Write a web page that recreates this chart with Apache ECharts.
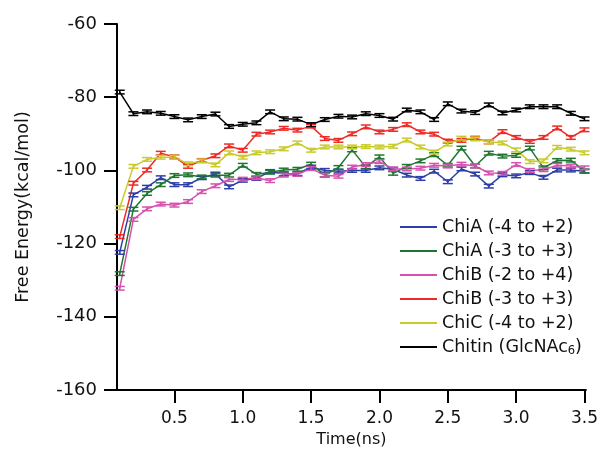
<!DOCTYPE html>
<html>
<head>
<meta charset="utf-8">
<script src="https://cdn.jsdelivr.net/npm/echarts@6/dist/echarts.min.js"></script>
<style>
  html, body { margin: 0; padding: 0; background: #fff; }
  #chart { width: 601px; height: 462px; }
</style>
</head>
<body>
<div id="chart"></div>
<script>
// Simulation time (ns), one sample every 0.1 ns
const times = [0.1, 0.2, 0.3, 0.4, 0.5, 0.6, 0.7, 0.8, 0.9, 1.0,
               1.1, 1.2, 1.3, 1.4, 1.5, 1.6, 1.7, 1.8, 1.9, 2.0,
               2.1, 2.2, 2.3, 2.4, 2.5, 2.6, 2.7, 2.8, 2.9, 3.0,
               3.1, 3.2, 3.3, 3.4, 3.5];

// Free energy (kcal/mol) for each system
const chiA_m4p2 = [-122.4, -106.7, -104.6, -102.0, -103.9, -103.9, -102.0, -101.0, -104.5, -102.7,
                   -102.2, -100.3, -101.0, -100.9, -99.1, -100.0, -100.2, -100.0, -100.0, -99.3,
                   -99.7, -101.3, -102.2, -100.2, -103.1, -99.6, -101.0, -104.3, -101.2, -101.5,
                   -100.6, -101.9, -99.9, -99.9, -100.2];
const chiA_m3p3 = [-128.2, -110.6, -106.3, -103.9, -101.4, -101.2, -101.8, -101.3, -101.3, -98.6,
                   -101.1, -100.5, -99.9, -99.7, -98.3, -101.3, -99.2, -94.4, -99.1, -96.3,
                   -100.8, -98.9, -97.4, -95.7, -98.6, -93.9, -98.8, -95.3, -96.1, -95.9,
                   -93.9, -99.3, -97.3, -97.2, -100.2];
const chiB_m2p4 = [-132.2, -113.4, -110.5, -109.2, -109.5, -108.5, -105.8, -104.2, -102.5, -102.4,
                   -102.0, -102.8, -101.3, -101.1, -99.5, -101.3, -101.6, -99.1, -98.4, -97.6,
                   -99.6, -99.6, -99.4, -98.6, -98.8, -98.3, -98.8, -100.7, -100.8, -98.4,
                   -100.0, -99.8, -98.6, -98.8, -99.3];
const chiB_m3p3 = [-118.1, -103.5, -99.9, -95.3, -96.3, -98.9, -97.3, -96.0, -93.3, -94.5,
                   -90.1, -89.5, -88.5, -89.0, -87.9, -91.3, -91.8, -90.0, -88.1, -89.5,
                   -88.8, -87.5, -89.5, -90.1, -92.0, -91.8, -91.2, -92.2, -89.4, -91.0,
                   -92.1, -91.0, -88.4, -91.0, -88.9];
const chiC_m4p2 = [-110.2, -98.9, -97.0, -96.4, -96.4, -98.2, -97.4, -98.5, -95.2, -96.4,
                   -95.2, -94.9, -94.1, -92.5, -94.5, -93.6, -93.6, -93.6, -93.5, -93.6,
                   -93.4, -91.7, -93.6, -95.0, -92.8, -91.2, -91.4, -92.2, -92.5, -94.4,
                   -97.6, -97.4, -93.7, -94.2, -95.2];
const chitin6   = [-78.6, -84.5, -84.0, -84.4, -85.3, -86.2, -85.3, -84.6, -88.0, -87.4,
                   -87.0, -84.0, -85.9, -86.0, -87.5, -86.1, -85.2, -85.4, -84.5, -85.0,
                   -86.0, -83.5, -84.0, -86.1, -81.8, -83.8, -84.2, -82.1, -84.3, -83.5,
                   -82.6, -82.6, -82.6, -84.4, -85.9];

// Half-width of the error bars (kcal/mol)
const errHalf = 0.5;

// Axis tick values
const xTicks = [0.5, 1.0, 1.5, 2.0, 2.5, 3.0, 3.5];

const systems = [
  { name: 'ChiA (-4 to +2)', values: chiA_m4p2, color: '#2d3ea6' },
  { name: 'ChiA (-3 to +3)', values: chiA_m3p3, color: '#1f7632' },
  { name: 'ChiB (-2 to +4)', values: chiB_m2p4, color: '#d552ae' },
  { name: 'ChiB (-3 to +3)', values: chiB_m3p3, color: '#ee2a26' },
  { name: 'ChiC (-4 to +2)', values: chiC_m4p2, color: '#c8cb2c' },
  { name: 'Chitin (GlcNAc6)', values: chitin6, color: '#000000' }
];

const FONT = 'DejaVu Sans';

function pairs(vals) {
  return times.map((t, i) => [t, vals[i]]);
}

function errorBarRenderer(color) {
  return function (params, api) {
    const x = api.value(0);
    const y = api.value(1);
    const hi = api.coord([x, y + errHalf]);
    const lo = api.coord([x, y - errHalf]);
    const hw = 5;
    const style = { stroke: color, lineWidth: 1.5 };
    return {
      type: 'group',
      children: [
        { type: 'line', shape: { x1: hi[0], y1: hi[1], x2: lo[0], y2: lo[1] }, style: style },
        { type: 'line', shape: { x1: hi[0] - hw, y1: hi[1], x2: hi[0] + hw, y2: hi[1] }, style: style },
        { type: 'line', shape: { x1: lo[0] - hw, y1: lo[1], x2: lo[0] + hw, y2: lo[1] }, style: style }
      ]
    };
  };
}

const series = [];
systems.forEach(s => {
  series.push({
    name: s.name,
    type: 'line',
    data: pairs(s.values),
    showSymbol: false,
    symbol: 'none',
    lineStyle: { color: s.color, width: 1.5 },
    itemStyle: { color: s.color },
    animation: false,
    z: 2
  });
  series.push({
    name: s.name,
    type: 'custom',
    data: pairs(s.values),
    renderItem: errorBarRenderer(s.color),
    itemStyle: { color: s.color },
    animation: false,
    silent: true,
    z: 3
  });
});

const chart = echarts.init(document.getElementById('chart'), null, { renderer: 'canvas' });
chart.setOption({
  backgroundColor: '#ffffff',
  animation: false,
  grid: { left: 117, right: 14.5, top: 24, bottom: 72, containLabel: false },
  xAxis: {
    type: 'value',
    min: 0.08,
    max: 3.51,
    name: 'Time(ns)',
    nameLocation: 'middle',
    nameGap: 37,
    nameTextStyle: { fontFamily: FONT, fontSize: 16, color: '#111' },
    axisLine: { show: true, lineStyle: { color: '#000', width: 2 } },
    axisTick: { show: true, length: 13, inside: false, lineStyle: { color: '#000', width: 2 }, customValues: xTicks },
    axisLabel: {
      customValues: xTicks,
      margin: 20,
      fontFamily: FONT, fontSize: 17, color: '#111',
      formatter: v => v.toFixed(1)
    },
    splitLine: { show: false }
  },
  yAxis: {
    type: 'value',
    min: -160,
    max: -60,
    interval: 20,
    name: 'Free Energy(kcal/mol)',
    nameLocation: 'middle',
    nameGap: 85,
    nameTextStyle: { fontFamily: FONT, fontSize: 17.5, color: '#111' },
    axisLine: { show: true, onZero: false, lineStyle: { color: '#000', width: 2 } },
    axisTick: { show: true, length: 13, inside: false, lineStyle: { color: '#000', width: 2 } },
    axisLabel: { margin: 20, fontFamily: FONT, fontSize: 18, color: '#111' },
    splitLine: { show: false }
  },
  legend: {
    orient: 'vertical',
    left: 395,
    top: 212,
    icon: 'rect',
    itemWidth: 37,
    itemHeight: 2,
    itemGap: 4,
    data: systems.map(s => s.name),
    textStyle: {
      fontFamily: FONT, fontSize: 17.5, color: '#111', lineHeight: 20,
      rich: {
        sub: { fontFamily: FONT, fontSize: 11.5, color: '#111', lineHeight: 11, verticalAlign: 'bottom', padding: [8, 0, 0, 0] }
      }
    },
    formatter: name => name === 'Chitin (GlcNAc6)' ? 'Chitin (GlcNAc{sub|6})' : name
  },
  series: series
});
</script>
</body>
</html>
